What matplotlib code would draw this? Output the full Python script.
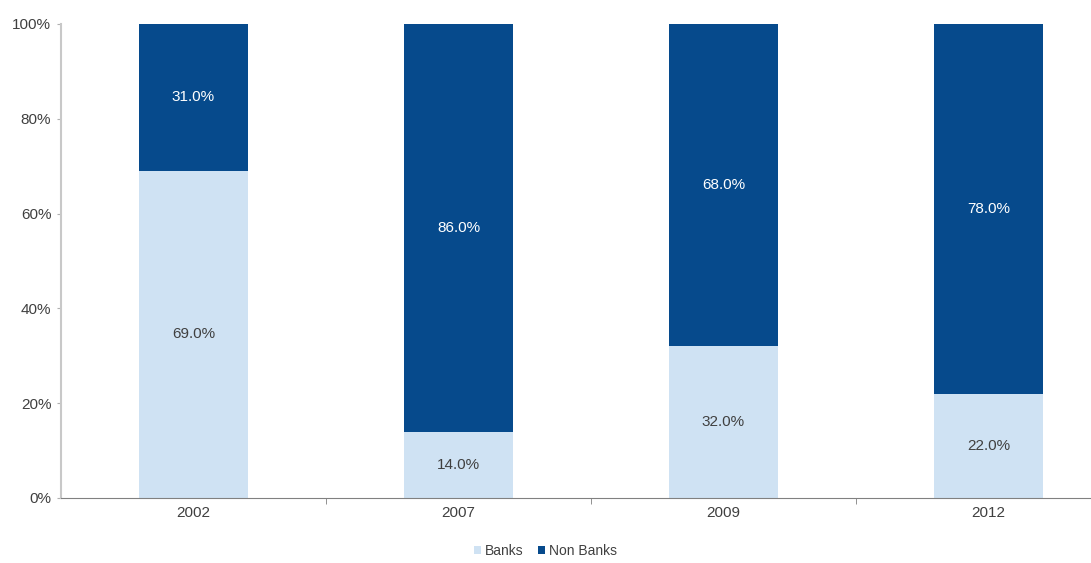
import numpy as np
import matplotlib
matplotlib.use("Agg")
import matplotlib.pyplot as plt
from matplotlib import ticker

plt.rcParams['font.family'] = ['Liberation Sans Narrow', 'Liberation Sans', 'DejaVu Sans']

years = ['2002', '2007', '2009', '2012']
banks = [69.0, 14.0, 32.0, 22.0]
non_banks = [31.0, 86.0, 68.0, 78.0]

light = '#cfe2f3'
dark = '#064a8c'

fig = plt.figure(figsize=(10.91, 5.63), dpi=100)
ax = fig.add_axes([0.0559, 0.1155, 0.9716, 0.8419])

x = np.arange(len(years))
w = 0.41
ax.bar(x, banks, w, color=light, label='Banks')
ax.bar(x, non_banks, w, bottom=banks, color=dark, label='Non Banks')

for i in range(len(years)):
    ax.text(x[i], banks[i] / 2, '%.1f%%' % banks[i], ha='center', va='center',
            fontsize=11, color='#404040')
    ax.text(x[i], banks[i] + non_banks[i] / 2, '%.1f%%' % non_banks[i],
            ha='center', va='center', fontsize=11, color='white')

ax.set_xlim(-0.5, 3.5)
ax.set_ylim(0, 100)
ax.yaxis.set_major_locator(ticker.MultipleLocator(20))
ax.yaxis.set_major_formatter(ticker.FuncFormatter(lambda v, p: '%d%%' % v))
ax.set_xticks(x)
ax.set_xticklabels(years)
ax.set_xticks(np.arange(0.5, 3.5, 1), minor=True)
ax.tick_params(axis='x', which='major', length=0, labelsize=11, colors='#404040', pad=6)
ax.tick_params(axis='x', which='minor', length=4, color='#808080', direction='out')
ax.tick_params(axis='y', length=3, color='#b0b0b0', labelsize=11, labelcolor='#404040', pad=4)

for s in ['top', 'right']:
    ax.spines[s].set_visible(False)
ax.spines['left'].set_color('#c8c8c8')
ax.spines['left'].set_linewidth(1.5)
ax.spines['bottom'].set_color('#808080')

fig.legend(loc='center', bbox_to_anchor=(0.5, 0.022), ncol=2, frameon=False,
           fontsize=10, handlelength=0.5, handleheight=0.5, handletextpad=0.3,
           columnspacing=1.0, labelcolor='#404040')

fig.savefig('out.png', dpi=100)
